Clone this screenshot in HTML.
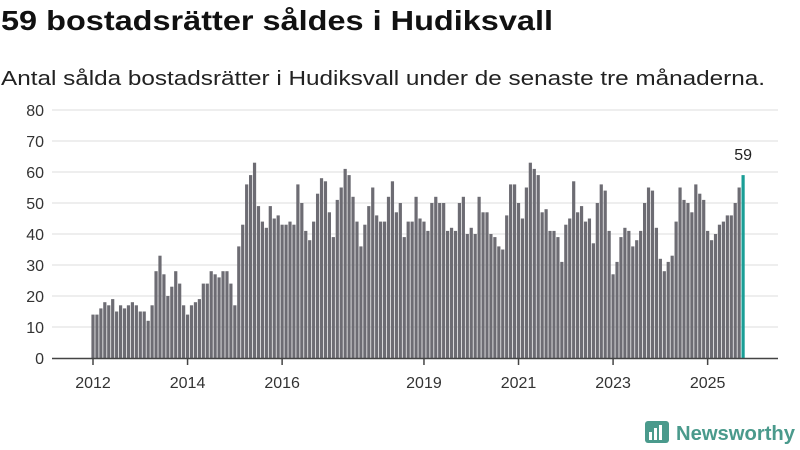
<!DOCTYPE html>
<html><head><meta charset="utf-8"><style>
html,body{margin:0;padding:0;background:#fff;width:800px;height:450px;overflow:hidden}
svg text{font-family:"Liberation Sans",sans-serif}
</style></head><body>
<svg id="chart" width="800" height="450" viewBox="0 0 800 450" xmlns="http://www.w3.org/2000/svg">
<text x="1" y="30" font-size="28" font-weight="bold" fill="#111" textLength="552" lengthAdjust="spacingAndGlyphs">59 bostadsrätter såldes i Hudiksvall</text>
<text x="1" y="85" font-size="20" fill="#222" textLength="764" lengthAdjust="spacingAndGlyphs">Antal sålda bostadsrätter i Hudiksvall under de senaste tre månaderna.</text>
<g id="grid"></g><g id="bars"></g><g id="axes"></g>
<g>
<rect x="645" y="421" width="24" height="22" rx="3" fill="#4a9a8c"/>
<rect x="649" y="432" width="3" height="8" fill="#fff"/><rect x="654" y="428" width="3" height="12" fill="#fff"/><rect x="659" y="425" width="3" height="15" fill="#fff"/>
<text x="676" y="440" font-size="20" font-weight="bold" fill="#4a9a8c" textLength="119" lengthAdjust="spacingAndGlyphs">Newsworthy</text>
</g>
</svg>
<script>
const values=[14,14,16,18,17,19,15,17,16,17,18,17,15,15,12,17,28,33,27,20,23,28,24,17,
14,17,18,19,24,24,28,27,26,28,28,24,17,36,43,56,59,63,49,44,42,49,45,46,43,
43,44,43,56,50,41,38,44,53,58,57,47,39,51,55,61,59,52,44,36,43,49,55,46,44,44,
52,57,47,50,39,44,44,52,45,44,41,50,52,50,50,41,42,41,50,52,40,42,40,52,47,47,
40,39,36,35,46,56,56,50,45,55,63,61,59,47,48,41,41,39,31,43,45,57,47,49,44,45,
37,50,56,54,41,27,31,39,42,41,36,38,41,50,55,54,42,32,28,31,33,44,55,51,50,47,
56,53,51,41,38,40,43,44,46,46,50,55,59];
const yTicks=[0,10,20,30,40,50,60,70,80];
const xTickLabels=["2012","2014","2016","2019","2021","2023","2025"];
const xTickIndex=[0,24,48,84,108,132,156];
const NS="http://www.w3.org/2000/svg";
const y0=358,yPer=3.1,x0=93,step=3.94;
const ys=v=>y0-v*yPer, xs=i=>x0+i*step;
const grid=document.getElementById('grid'),bars=document.getElementById('bars'),axes=document.getElementById('axes');
function mk(tag,attrs,parent){const e=document.createElementNS(NS,tag);for(const k in attrs)e.setAttribute(k,attrs[k]);parent.appendChild(e);return e;}
yTicks.forEach(t=>{
 if(t>0){const l=mk('line',{x1:52,x2:778,y1:ys(t),y2:ys(t),stroke:'#dcdcdc','stroke-width':1},grid);
 
 }
 const tx=mk('text',{x:44,y:ys(t)+6,'font-size':16,fill:'#333','text-anchor':'end'},axes);
 tx.textContent=t;
 
 
});
values.forEach((v,i)=>{
 const last=i===values.length-1;
 const r=mk('rect',{x:xs(i)-1.6,y:ys(v),width:3.2,height:v*yPer,fill:last?'#1a9e96':'#6d6c73'},bars);
 
 
});
const li=values.length-1;
const lab=mk('text',{x:xs(li),y:ys(values[li])-15,'font-size':16,fill:'#222','text-anchor':'middle'},axes);
lab.textContent=values[li];


const ax=mk('line',{x1:52,x2:778,y1:y0+0.5,y2:y0+0.5,stroke:'#444','stroke-width':1.5},axes);


xTickIndex.forEach((idx,k)=>{
 const tl=mk('line',{x1:xs(idx),x2:xs(idx),y1:y0,y2:y0+7,stroke:'#444','stroke-width':1.5},axes);
 
 
 const tx=mk('text',{x:xs(idx),y:388,'font-size':16,fill:'#333','text-anchor':'middle'},axes);
 tx.textContent=xTickLabels[k];
 
 
});
</script>
</body></html>
